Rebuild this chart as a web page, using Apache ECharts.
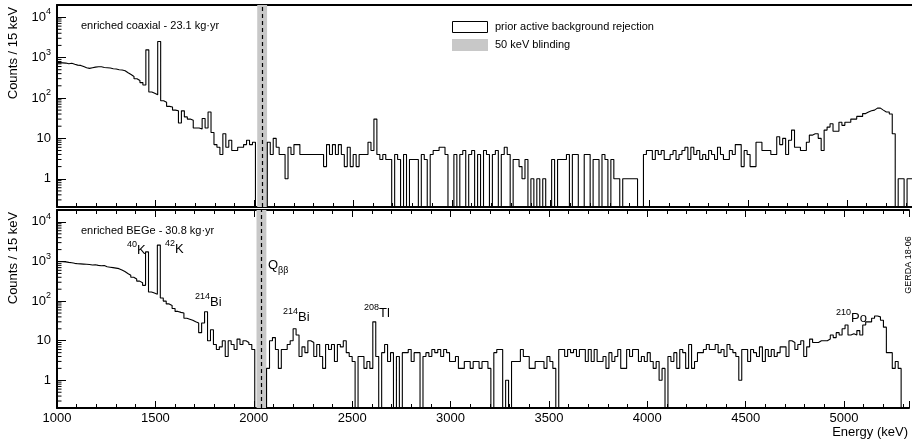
<!DOCTYPE html>
<html lang="en">
<head>
    <meta charset="UTF-8">
    <title>GERDA energy spectra</title>
    <script src="https://cdn.jsdelivr.net/npm/echarts@6/dist/echarts.min.js"></script>
    <style>
        html, body {
            margin: 0;
            padding: 0;
            background: #fff;
        }
        #chart {
            width: 912px;
            height: 439px;
        }
    </style>
</head>
<body>
<div id="chart"></div>
<script>
    const FONT = '"Liberation Sans", Arial, Helvetica, sans-serif';

    // binning and axis ranges
    const binStart = 1000;
    const binWidth = 15;
    const energyMin = 1000;
    const energyMax = 5330;
    const countsMin = 0.2;
    const countsMax = 2e4;
    const blindLow = 2014;
    const blindHigh = 2064;
    const qbb = 2039;

    // counts per 15 keV bin, one row = 150 keV
    const coaxCounts = [
        750, 740, 730, 700, 720, 680, 650, 640, 600, 560,
        540, 560, 580, 590, 590, 570, 560, 550, 530, 520,
        500, 490, 470, 420, 380, 340, 300, 270, 240, 210,
        1550, 140, 130, 120, 2500, 85, 78, 62, 60, 50,
        48, 24, 48, 34, 30, 28, 18, 18, 17, 31,
        18, 45, 14, 7, 6, 4, 13, 6, 9, 5,
        5, 6, 6, 7, 9, 7, 8, 0, 0, 0,
        0, 8, 4, 10, 6, 4, 4, 1, 6, 4,
        7, 7, 4, 4, 4, 4, 4, 4, 4, 4,
        2, 7, 4, 7, 4, 7, 4, 2, 6, 2,
        4, 2, 4, 4, 4, 8, 5, 30, 4, 3,
        4, 3, 3, 0, 4, 3, 0, 4, 0, 3,
        3, 3, 0, 4, 3, 0, 4, 5, 5, 6,
        6, 4, 0, 0, 4, 0, 4, 5, 0, 4,
        5, 0, 4, 0, 5, 4, 0, 4, 5, 0,
        4, 6, 4, 0, 3, 3, 2, 1, 3, 0,
        1, 0, 1, 0, 1, 0, 0, 3, 0, 3,
        3, 3, 4, 0, 4, 4, 0, 0, 4, 4,
        0, 3, 3, 0, 4, 3, 0, 3, 1, 1,
        0, 1, 1, 1, 1, 1, 0, 0, 4, 5,
        5, 3, 5, 4, 5, 3, 3, 4, 5, 3,
        4, 5, 6, 3, 6, 4, 5, 3, 4, 3,
        5, 4, 3, 6, 4, 3, 3, 5, 4, 7,
        7, 2, 5, 4, 2, 2, 8, 8, 5, 5,
        5, 4, 4, 11, 7, 10, 4, 9, 16, 6,
        6, 5, 5, 8, 12, 13, 13, 10, 5, 16,
        19, 23, 15, 15, 25, 21, 25, 25, 30, 30,
        35, 35, 41, 45, 48, 50, 56, 56, 50, 45,
        45, 40, 13, 0, 1, 1, 0, 1, 1
    ];

    const begeCounts = [
        1000, 990, 980, 950, 930, 900, 880, 870, 860, 850,
        840, 820, 830, 800, 780, 790, 740, 720, 700, 680,
        660, 610, 560, 500, 450, 400, 360, 320, 290, 250,
        1750, 170, 160, 150, 2600, 120, 100, 85, 78, 65,
        55, 52, 50, 37, 35, 33, 30, 28, 16, 28,
        54, 10, 19, 8, 6, 7, 10, 4, 10, 8,
        6, 11, 8, 10, 9, 8, 6, 0, 0, 0,
        0, 2, 10, 12, 6, 2, 6, 6, 8, 10,
        20, 14, 4, 7, 5, 10, 9, 4, 8, 4,
        2, 8, 6, 8, 3, 8, 7, 10, 5, 4,
        3, 0, 4, 4, 2, 3, 2, 30, 4, 0,
        5, 8, 3, 5, 0, 4, 0, 5, 5, 6,
        3, 5, 5, 0, 4, 5, 4, 6, 5, 6,
        4, 6, 5, 3, 3, 4, 2, 2, 3, 3,
        2, 3, 3, 2, 3, 3, 2, 0, 5, 6,
        6, 0, 1, 0, 3, 3, 3, 6, 4, 4,
        2, 2, 3, 3, 3, 2, 4, 3, 2, 0,
        6, 6, 4, 6, 5, 6, 4, 6, 6, 3,
        6, 3, 6, 3, 3, 4, 2, 5, 3, 4,
        6, 2, 2, 6, 4, 6, 6, 3, 4, 3,
        5, 3, 2, 3, 1, 2, 0, 4, 3, 5,
        2, 6, 5, 2, 8, 2, 3, 5, 5, 6,
        8, 6, 6, 8, 5, 6, 4, 8, 6, 5,
        4, 1, 6, 6, 3, 6, 5, 4, 7, 3,
        6, 4, 6, 4, 5, 7, 7, 4, 10, 9,
        6, 8, 10, 4, 7, 11, 9, 9, 10, 10,
        10, 11, 14, 12, 16, 14, 20, 25, 14, 15,
        14, 18, 14, 25, 30, 30, 37, 42, 40, 33,
        22, 5, 5, 2, 3, 2, 0, 0, 0
    ];

    const coaxLabel = 'enriched coaxial - 23.1 kg\u00b7yr';
    const begeLabel = 'enriched BEGe - 30.8 kg\u00b7yr';
    const legendNames = ['prior active background rejection', '50 keV blinding'];

    // minor ticks of the log axes (2..9 x 10^n)
    const logMinorTicks = [];
    for (let e = -1; e <= 4; e++) {
        for (let m = 2; m <= 9; m++) {
            const v = m * Math.pow(10, e);
            if (v > countsMin && v < countsMax) logMinorTicks.push(v);
        }
    }

    const frameLine = {show: true, onZero: false, lineStyle: {color: '#000', width: 2}};

    function stepData(counts) {
        // empty bins go below the axis floor so the line drops to the frame like ROOT does
        const floor = countsMin / 20;
        const pts = counts.map((c, i) => [binStart + i * binWidth, c > 0 ? c : floor]);
        pts.push([binStart + counts.length * binWidth, pts[pts.length - 1][1]]);
        return pts;
    }

    function powLabel(v) {
        const e = Math.round(Math.log10(v));
        if (Math.abs(v / Math.pow(10, e) - 1) > 1e-6) return '';
        if (e === 0) return '{b|1}';
        if (e === 1) return '{b|10}';
        return '{b|10}{s|' + e + '}';
    }

    function xAxisFor(grid, extra) {
        return Object.assign({
            type: 'value',
            gridIndex: grid,
            min: energyMin,
            max: energyMax,
            interval: 500,
            axisLine: frameLine,
            axisTick: {inside: true, length: 7, lineStyle: {color: '#000', width: 1}},
            minorTick: {show: true, splitNumber: 5, length: 4, lineStyle: {color: '#000', width: 1}},
            splitLine: {show: false},
            minorSplitLine: {show: false},
            axisLabel: {show: false}
        }, extra || {});
    }

    function yAxisFor(grid) {
        return {
            type: 'log',
            logBase: 10,
            gridIndex: grid,
            min: countsMin,
            max: countsMax,
            axisLine: frameLine,
            axisTick: {inside: true, length: 9, lineStyle: {color: '#000', width: 1}},
            splitLine: {show: false},
            axisLabel: {
                formatter: powLabel,
                margin: 6,
                color: '#000',
                rich: {
                    b: {fontSize: 13, lineHeight: 20, fontFamily: FONT, color: '#000'},
                    s: {fontSize: 9, lineHeight: 8, verticalAlign: 'top', fontFamily: FONT, color: '#000'}
                }
            }
        };
    }

    function histSeries(xi, yi, name, counts) {
        return {
            name: name,
            type: 'line',
            xAxisIndex: xi,
            yAxisIndex: yi,
            step: 'end',
            data: stepData(counts),
            showSymbol: false,
            symbol: 'none',
            lineStyle: {color: '#000', width: 1.1},
            z: 3,
            silent: true
        };
    }

    function blindSeries(xi, yi) {
        return {
            name: legendNames[1],
            type: 'line',
            xAxisIndex: xi,
            yAxisIndex: yi,
            data: [],
            z: 1,
            silent: true,
            markArea: {
                silent: true,
                itemStyle: {color: '#c8c8c8'},
                data: [[{xAxis: blindLow}, {xAxis: blindHigh}]]
            },
            markLine: {
                silent: true,
                symbol: ['none', 'none'],
                label: {show: false},
                lineStyle: {color: '#000', type: [4, 3], width: 1.2},
                data: [{xAxis: qbb}]
            }
        };
    }

    function minorTickSeries(xi, yi) {
        return {
            type: 'custom',
            xAxisIndex: xi,
            yAxisIndex: yi,
            silent: true,
            z: 4,
            data: logMinorTicks.map(v => [energyMin, v]),
            renderItem: function (params, api) {
                const p = api.coord([api.value(0), api.value(1)]);
                return {
                    type: 'line',
                    shape: {x1: p[0], y1: p[1], x2: p[0] + 4.5, y2: p[1]},
                    style: {stroke: '#000', lineWidth: 1}
                };
            }
        };
    }

    function isoText(x, y, mass, sym) {
        return {
            type: 'text', x: x, y: y, silent: true,
            style: {
                text: '{s|' + mass + '}{b|' + sym + '}',
                verticalAlign: 'middle',
                rich: {
                    s: {fontSize: 9, lineHeight: 15, verticalAlign: 'top', fontFamily: FONT, fill: '#000'},
                    b: {fontSize: 13, lineHeight: 20, fontFamily: FONT, fill: '#000'}
                }
            }
        };
    }

    function plainText(x, y, text, size, align, rotation) {
        return {
            type: 'text', x: x, y: y, silent: true, rotation: rotation || 0,
            style: {text: text, font: size + 'px ' + FONT, fill: '#000', align: align || 'left', verticalAlign: 'middle'}
        };
    }

    const myChart = echarts.init(document.getElementById('chart'));
    const option = {
        animation: false,
        backgroundColor: '#fff',
        textStyle: {fontFamily: FONT},
        grid: [
            {left: 57, top: 5, width: 856, height: 202},
            {left: 57, top: 210, width: 856, height: 198}
        ],
        xAxis: [
            xAxisFor(0),
            xAxisFor(1, {
                axisLabel: {
                    show: true,
                    margin: 4,
                    fontSize: 13,
                    fontFamily: FONT,
                    color: '#000',
                    formatter: v => (v % 500 === 0 ? String(v) : '')
                }
            }),
            xAxisFor(1, {position: 'top'}),
            xAxisFor(0, {position: 'top', axisTick: {show: false}, minorTick: {show: false}})
        ],
        yAxis: [yAxisFor(0), yAxisFor(1)],
        series: [
            blindSeries(0, 0),
            blindSeries(1, 1),
            histSeries(0, 0, legendNames[0], coaxCounts),
            histSeries(1, 1, legendNames[0], begeCounts),
            minorTickSeries(0, 0),
            minorTickSeries(1, 1)
        ],
        graphic: [
            plainText(81, 26, coaxLabel, 11),
            plainText(81, 231, begeLabel, 11),

            // legend
            {type: 'rect', silent: true, shape: {x: 452.5, y: 21.5, width: 35, height: 11}, style: {fill: '#fff', stroke: '#000', lineWidth: 1}},
            {type: 'rect', silent: true, shape: {x: 452, y: 39, width: 36, height: 12}, style: {fill: '#c8c8c8'}},
            plainText(495, 27, legendNames[0], 11),
            plainText(495, 45, legendNames[1], 11),

            // peak annotations
            isoText(127, 250, '40', 'K'),
            isoText(165, 249, '42', 'K'),
            isoText(195, 302, '214', 'Bi'),
            isoText(283, 317, '214', 'Bi'),
            isoText(364, 313, '208', 'Tl'),
            isoText(836, 318, '210', 'Po'),
            {
                type: 'text', x: 268, y: 265, silent: true,
                style: {
                    text: '{b|Q}{sub|\u03b2\u03b2}',
                    verticalAlign: 'middle',
                    rich: {
                        b: {fontSize: 13, lineHeight: 20, fontFamily: FONT, fill: '#000'},
                        sub: {fontSize: 9, lineHeight: 8, verticalAlign: 'bottom', fontFamily: FONT, fill: '#000'}
                    }
                }
            },

            // axis titles
            plainText(13, 53, 'Counts / 15 keV', 13, 'center', Math.PI / 2),
            plainText(13, 258, 'Counts / 15 keV', 13, 'center', Math.PI / 2),
            plainText(908, 432, 'Energy (keV)', 13, 'right'),
            plainText(909, 265, 'GERDA 18-06', 9, 'center', Math.PI / 2)
        ]
    };

    myChart.setOption(option);
</script>
</body>
</html>
